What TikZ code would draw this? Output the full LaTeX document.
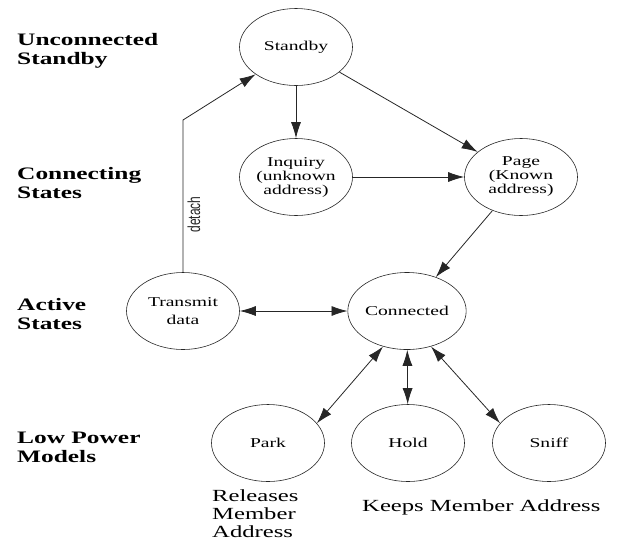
\documentclass[tikz,border=0pt]{standalone}
\usepackage{fontspec}
\usepackage{graphicx}
\setmainfont{Liberation Serif}[FakeStretch=1.45]
\newfontfamily\detachfont{Liberation Sans}
\usepackage{tikz}
\usetikzlibrary{shapes.geometric,arrows.meta,positioning,calc}

\begin{document}
\begin{tikzpicture}[
    x=1pt, y=-1pt,
    state/.style={ellipse, draw=black!85, line width=0.6pt, minimum width=113pt, minimum height=77pt,
        inner sep=0pt, align=center, font=\fontsize{13.5}{14}\selectfont},
    level/.style={anchor=north west, inner sep=0pt, align=left, font=\fontsize{17.5}{19}\selectfont\bfseries},
    note/.style={anchor=north west, inner sep=0pt, align=left, font=\fontsize{17}{18}\selectfont},
    arrow/.style={-{Latex[length=16pt,width=10pt]}, line width=0.8pt, black!85},
    twoway/.style={{Latex[length=16pt,width=10pt]}-{Latex[length=16pt,width=10pt]}, line width=0.8pt, black!85}
]
    \useasboundingbox (0,0) rectangle (618,542);

    % Level labels
    \node[level] (lunconn) at (17,33) {Unconnected\\Standby};
    \node[level] (lconn) at (17,167) {Connecting\\States};
    \node[level] (lactive) at (17,298) {Active\\States};
    \node[level] (lpower) at (17,432) {Low Power\\Models};

    % States
    \node[state] (standby) at (296,47) {Standby};
    \node[state] (inquiry) at (296,177) {Inquiry\\(unknown\\address)};
    \node[state] (page) at (521,177) {Page\\(Known\\address)};
    \node[state] (transmit) at (183,311) {Transmit\\[4pt]data};
    \node[state] (connected) at (407,311) {Connected};

    % Low power modes
    \node[state] (park) at (268,443) {Park};
    \node[state] (hold) at (408,443) {Hold};
    \node[state] (sniff) at (549,443) {Sniff};

    % Notes
    \node[note] (release) at (212,489) {Releases\\Member\\Address};
    \node[note] (keeps) at (362,499) {Keeps Member Address};

    % Transitions
    \coordinate (bend) at (183,120);
    \draw[arrow] (standby) -- (inquiry);
    \draw[arrow] (standby) -- (page);
    \draw[arrow] (inquiry) -- (page);
    \draw[arrow] (page) -- (connected);
    \draw[twoway] (transmit) -- (connected);
    \draw[arrow] (transmit.north) -- (bend)
        node[pos=0.38, below, sloped, inner sep=4pt] {\detachfont\fontsize{12}{12}\selectfont\scalebox{1}[1.45]{detach}}
        -- (standby.214);
    \draw[twoway] (connected.236) -- (park.22);
    \draw[twoway] (connected) -- (hold);
    \draw[twoway] (connected.304) -- (sniff.158);
\end{tikzpicture}
\end{document}
